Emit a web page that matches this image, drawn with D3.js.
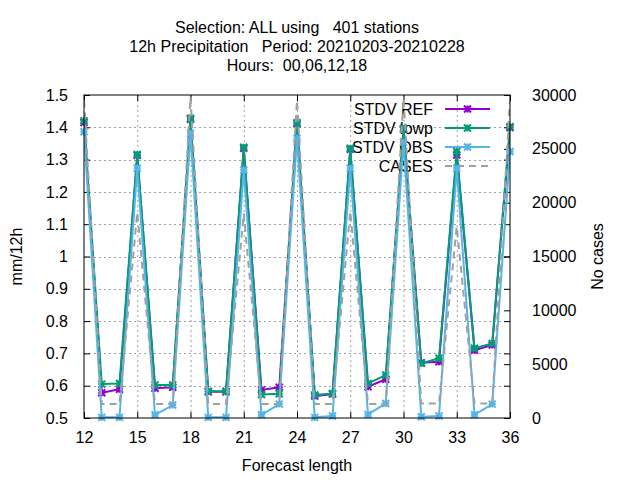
<!DOCTYPE html>
<html>
<head>
<meta charset="utf-8">
<script src="https://cdn.jsdelivr.net/npm/d3@7"></script>
<style>
  body { margin: 0; background: #fff; }
  svg { font-family: "Liberation Sans", Arial, sans-serif; }
</style>
</head>
<body>
<div id="chart"></div>
<script>
// forecast length (hours)
const lengths = [12, 13, 14, 15, 16, 17, 18, 19, 20, 21, 22, 23, 24,
  25, 26, 27, 28, 29, 30, 31, 32, 33, 34, 35, 36];

const stdvRef = [1.415, 0.578, 0.589, 1.313, 0.592, 0.595, 1.425, 0.581, 0.581,
  1.335, 0.587, 0.595, 1.411, 0.568, 0.574, 1.332, 0.597, 0.620, 1.394,
  0.671, 0.674, 1.314, 0.710, 0.726, 1.399];
const stdvLowp = [1.420, 0.605, 0.607, 1.316, 0.602, 0.602, 1.428, 0.583, 0.583,
  1.338, 0.573, 0.575, 1.414, 0.571, 0.576, 1.335, 0.607, 0.633, 1.397,
  0.669, 0.685, 1.325, 0.716, 0.731, 1.402];
const stdvObs = [1.386, 0.502, 0.502, 1.273, 0.510, 0.540, 1.381, 0.502, 0.502,
  1.268, 0.510, 0.543, 1.366, 0.502, 0.506, 1.273, 0.511, 0.545, 1.354,
  0.504, 0.506, 1.273, 0.510, 0.543, 1.325];
const cases = [29500, 1300, 1300, 19100, 1300, 1300, 29800, 1300, 1300,
  19000, 1300, 1300, 29500, 1300, 1300, 19200, 1300, 1300, 29700,
  1350, 1350, 17800, 1350, 1350, 29500];

const xTicks = [12, 15, 18, 21, 24, 27, 30, 33, 36];
const yTicks = [0.5, 0.6, 0.7, 0.8, 0.9, 1.0, 1.1, 1.2, 1.3, 1.4, 1.5];
const y2Ticks = [0, 5000, 10000, 15000, 20000, 25000, 30000];

const titleLines = [
  "Selection: ALL using\u00a0\u00a0\u00a0401 stations",
  "12h Precipitation\u00a0\u00a0\u00a0Period: 20210203-20210228",
  "Hours:\u00a0\u00a000,06,12,18"
];

const series = [
  { name: "STDV REF", values: stdvRef, color: "#9400d3", axis: "y", marker: true },
  { name: "STDV lowp", values: stdvLowp, color: "#009e73", axis: "y", marker: true },
  { name: "STDV OBS", values: stdvObs, color: "#56b4e9", axis: "y", marker: true },
  { name: "CASES", values: cases, color: "#a0a0a0", axis: "y2", marker: false, dash: "7,5" }
];

const width = 640, height = 480;
const margin = { top: 95, right: 130, bottom: 62, left: 84 };
const plotW = width - margin.left - margin.right;
const plotH = height - margin.top - margin.bottom;

const x = d3.scaleLinear().domain([12, 36]).range([0, plotW]);
const y = d3.scaleLinear().domain([0.5, 1.5]).range([plotH, 0]);
const y2 = d3.scaleLinear().domain([0, 30000]).range([plotH, 0]);

const svg = d3.select("#chart").append("svg")
  .attr("width", width)
  .attr("height", height)
  .style("font-size", "16px");

const g = svg.append("g").attr("transform", `translate(${margin.left},${margin.top})`);

// grid
const grid = g.append("g")
  .attr("stroke", "#a0a0a0")
  .attr("stroke-width", 1)
  .attr("stroke-dasharray", "2,3");
grid.selectAll("line.gx").data(xTicks.slice(1, -1)).join("line")
  .attr("x1", (d) => x(d) + 0.5).attr("x2", (d) => x(d) + 0.5)
  .attr("y1", 0).attr("y2", plotH);
grid.selectAll("line.gy").data(yTicks.slice(1, -1)).join("line")
  .attr("x1", 0).attr("x2", plotW)
  .attr("y1", (d) => Math.round(y(d)) + 0.5).attr("y2", (d) => Math.round(y(d)) + 0.5);

// axes: ticks inward, mirrored on the opposite side
const tickLen = 6;
const xAxis = d3.axisBottom(x).tickValues(xTicks).tickSize(-tickLen).tickPadding(14).tickFormat(d3.format("d"));
const xAxisTop = d3.axisTop(x).tickValues(xTicks).tickSize(-tickLen).tickFormat("");
const yAxis = d3.axisLeft(y).tickValues(yTicks).tickSize(-tickLen).tickPadding(16).tickFormat((d) => d3.format("~g")(d));
const yAxisMirror = d3.axisRight(y).tickValues(yTicks).tickSize(-tickLen).tickFormat("");
const y2Axis = d3.axisRight(y2).tickValues(y2Ticks).tickSize(-tickLen).tickPadding(22).tickFormat(d3.format("d"));

function style(sel) {
  sel.select(".domain").remove();
  sel.selectAll("line").attr("stroke", "#000");
  sel.selectAll("text").attr("fill", "#000").style("font-size", "16px")
    .attr("font-family", "Liberation Sans, Arial, sans-serif");
}

g.append("g").attr("transform", `translate(0,${plotH})`).call(xAxis).call(style);
g.append("g").call(xAxisTop).call(style);
g.append("g").call(yAxis).call(style);
g.append("g").attr("transform", `translate(${plotW},0)`).call(yAxisMirror).call(style);
g.append("g").attr("transform", `translate(${plotW},0)`).call(y2Axis).call(style);

// legend (drawn before the data so the lines run over the text)
const legend = g.append("g").attr("transform", `translate(${433 - margin.left},${109 - margin.top})`);
series.forEach((s, i) => {
  const row = legend.append("g").attr("transform", `translate(0,${i * 19})`);
  row.append("text").attr("text-anchor", "end").attr("dy", "0.36em").text(s.name);
});

// series
const clipId = "plot-clip";
g.append("clipPath").attr("id", clipId)
  .append("rect").attr("width", plotW).attr("height", plotH);

function star(sel, r) {
  sel.append("path")
    .attr("d", `M${-r},0H${r}M0,${-r}V${r}M${-r},${-r}L${r},${r}M${-r},${r}L${r},${-r}`);
}

series.forEach((s, i) => {
  const yy = s.axis === "y" ? y : y2;
  const line = d3.line().x((d, j) => x(lengths[j])).y((d) => yy(d));
  g.append("path")
    .datum(s.values)
    .attr("clip-path", `url(#${clipId})`)
    .attr("fill", "none")
    .attr("stroke", s.color)
    .attr("stroke-width", 2)
    .attr("stroke-dasharray", s.dash || null)
    .attr("d", line);

  const ly = i * 19;
  const lx0 = 445 - 433, lx1 = 490 - 433;
  const sample = legend.append("g");
  sample.append("line")
    .attr("x1", lx0).attr("x2", lx1).attr("y1", ly).attr("y2", ly)
    .attr("stroke", s.color).attr("stroke-width", 2)
    .attr("stroke-dasharray", s.dash || null);

  if (s.marker) {
    const pts = g.append("g").attr("stroke", s.color).attr("stroke-width", 2).attr("fill", "none");
    s.values.forEach((v, j) => {
      pts.append("g").attr("transform", `translate(${x(lengths[j])},${yy(v)})`).call(star, 3.5);
    });
    sample.append("g").attr("stroke", s.color).attr("stroke-width", 2)
      .attr("transform", `translate(${(lx0 + lx1) / 2},${ly})`).call(star, 3.5);
  }
});

// border
g.append("rect")
  .attr("x", 0).attr("y", 0).attr("width", plotW).attr("height", plotH)
  .attr("fill", "none").attr("stroke", "#000").attr("stroke-width", 1);

// titles
svg.append("g").selectAll("text").data(titleLines).join("text")
  .attr("x", margin.left + plotW / 2)
  .attr("y", (d, i) => 33 + i * 19)
  .attr("text-anchor", "middle")
  .text((d) => d);

svg.append("text")
  .attr("x", margin.left + plotW / 2).attr("y", 471)
  .attr("text-anchor", "middle")
  .text("Forecast length");

svg.append("text")
  .attr("transform", `translate(22,${margin.top + plotH / 2}) rotate(-90)`)
  .attr("text-anchor", "middle")
  .text("mm/12h");

svg.append("text")
  .attr("transform", `translate(603,${margin.top + plotH / 2}) rotate(-90)`)
  .attr("text-anchor", "middle")
  .text("No cases");
</script>
</body>
</html>
